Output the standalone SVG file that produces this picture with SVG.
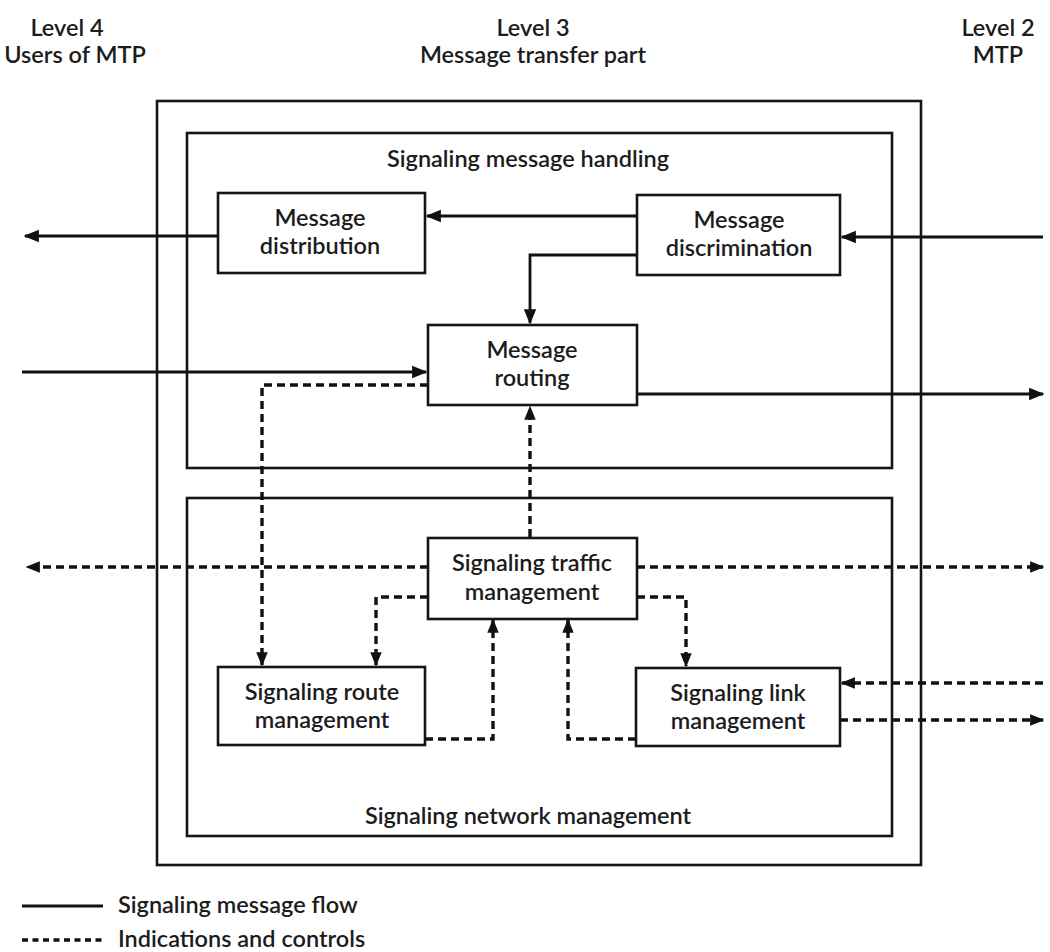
<svg xmlns="http://www.w3.org/2000/svg" width="1050" height="952" viewBox="0 0 1050 952">
  <style>
    .box { fill: none; stroke: #151515; stroke-width: 2.6; }
    .frame { fill: none; stroke: #151515; stroke-width: 2.6; }
    .flow { fill: none; stroke: #111; stroke-width: 2.8; }
    .ctrl { fill: none; stroke: #111; stroke-width: 3.4; stroke-dasharray: 8 5; }
    text { font-family: Lato, "Open Sans", "Liberation Sans", sans-serif; font-size: 23.5px; font-weight: 600; fill: #1c1c1c; text-anchor: middle; }
    .legend { text-anchor: start; }
  </style>
  <defs>
    <marker id="arrow" viewBox="0 0 10 10" refX="9" refY="5" markerWidth="5.5" markerHeight="5.5" markerUnits="strokeWidth" orient="auto">
      <path d="M0,1 L10,5 L0,9 z" fill="#111"/>
    </marker>
    <marker id="arrowc" viewBox="0 0 10 10" refX="9" refY="5" markerWidth="4.2" markerHeight="4.2" markerUnits="strokeWidth" orient="auto">
      <path d="M0,1 L10,5 L0,9 z" fill="#111"/>
    </marker>
  </defs>
  <rect width="1050" height="952" fill="#fff"/>

  <!-- level headings -->
  <g id="headings">
    <text x="67" y="36">Level 4</text>
    <text x="75" y="63">Users of MTP</text>
    <text x="533" y="36">Level 3</text>
    <text x="533" y="63">Message transfer part</text>
    <text x="998" y="36">Level 2</text>
    <text x="998" y="63">MTP</text>
  </g>

  <!-- enclosing frames -->
  <g id="mtp-level3">
    <rect class="frame" x="157" y="101" width="764" height="764"/>
  </g>
  <g id="message-handling">
    <rect class="frame" x="187" y="133" width="705" height="335"/>
    <text x="528" y="167">Signaling message handling</text>
  </g>
  <g id="network-management">
    <rect class="frame" x="187" y="498" width="705" height="338"/>
    <text x="528" y="824">Signaling network management</text>
  </g>

  <!-- connectors -->
  <g id="connectors">
    <path class="flow" d="M637,216 H427" marker-end="url(#arrow)"/>
    <path class="flow" d="M218,236 H25" marker-end="url(#arrow)"/>
    <path class="flow" d="M1043,237 H842" marker-end="url(#arrow)"/>
    <path class="flow" d="M637,255 H530 V323" marker-end="url(#arrow)"/>
    <path class="flow" d="M22,372 H426" marker-end="url(#arrow)"/>
    <path class="flow" d="M637,394 H1043" marker-end="url(#arrow)"/>

    <path class="ctrl" d="M428,385 H262 V665" marker-end="url(#arrowc)"/>
    <path class="ctrl" d="M530,537 V407" marker-end="url(#arrowc)"/>
    <path class="ctrl" d="M428,567 H27" marker-end="url(#arrowc)"/>
    <path class="ctrl" d="M637,567 H1043" marker-end="url(#arrowc)"/>
    <path class="ctrl" d="M428,597 H376 V665" marker-end="url(#arrowc)"/>
    <path class="ctrl" d="M637,597 H686 V666" marker-end="url(#arrowc)"/>
    <path class="ctrl" d="M425,739 H493 V620" marker-end="url(#arrowc)"/>
    <path class="ctrl" d="M636,739 H568 V620" marker-end="url(#arrowc)"/>
    <path class="ctrl" d="M1043,683 H842" marker-end="url(#arrowc)"/>
    <path class="ctrl" d="M840,720 H1043" marker-end="url(#arrowc)"/>
  </g>

  <!-- functional blocks -->
  <g id="message-distribution">
    <rect class="box" x="218" y="193" width="207" height="80"/>
    <text x="320" y="226">Message</text>
    <text x="320" y="254">distribution</text>
  </g>
  <g id="message-discrimination">
    <rect class="box" x="637" y="195" width="203" height="80"/>
    <text x="739" y="228">Message</text>
    <text x="739" y="256">discrimination</text>
  </g>
  <g id="message-routing">
    <rect class="box" x="428" y="325" width="209" height="80"/>
    <text x="532" y="358">Message</text>
    <text x="532" y="386">routing</text>
  </g>
  <g id="traffic-management">
    <rect class="box" x="428" y="538" width="209" height="81"/>
    <text x="532" y="571">Signaling traffic</text>
    <text x="532" y="600">management</text>
  </g>
  <g id="route-management">
    <rect class="box" x="218" y="667" width="207" height="78"/>
    <text x="322" y="700">Signaling route</text>
    <text x="322" y="728">management</text>
  </g>
  <g id="link-management">
    <rect class="box" x="636" y="668" width="204" height="78"/>
    <text x="738" y="701">Signaling link</text>
    <text x="738" y="729">management</text>
  </g>

  <!-- key -->
  <g id="legend">
    <line class="flow" x1="22" y1="906" x2="103" y2="906"/>
    <text class="legend" x="118" y="913">Signaling message flow</text>
    <line class="ctrl" x1="22" y1="940" x2="103" y2="940" style="stroke-dasharray:6 4.5"/>
    <text class="legend" x="118" y="947">Indications and controls</text>
  </g>
</svg>
